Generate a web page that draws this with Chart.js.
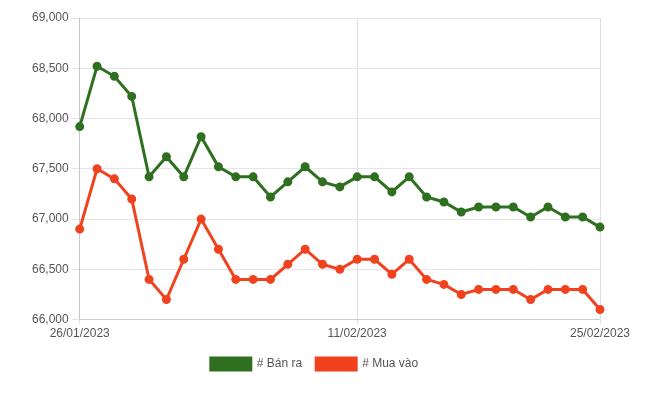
<!DOCTYPE html>
<html><head><meta charset="utf-8">
<script src="https://cdn.jsdelivr.net/npm/chart.js@4"></script>
<style>body{margin:0;background:#fff}#wrap{width:650px;height:400px}</style>
</head><body><div id="wrap"><canvas id="c"></canvas></div>
<script>
const dates=[];
for(let i=0;i<31;i++){const d=new Date(2023,0,26+i);dates.push(String(d.getDate()).padStart(2,'0')+'/'+String(d.getMonth()+1).padStart(2,'0')+'/2023');}
const banRa=[67920,68520,68420,68220,67420,67620,67420,67820,67520,67420,67420,67220,67370,67520,67370,67320,67420,67420,67270,67420,67220,67170,67070,67120,67120,67120,67020,67120,67020,67020,66920];
const muaVao=[66900,67500,67400,67200,66400,66200,66600,67000,66700,66400,66400,66400,66550,66700,66550,66500,66600,66600,66450,66600,66400,66350,66250,66300,66300,66300,66200,66300,66300,66300,66100];
const shownTicks=[0,16,30];
new Chart(document.getElementById('c'),{
  type:'line',
  data:{labels:dates,datasets:[
    {label:'# Bán ra',data:banRa,borderColor:'#2e7020',backgroundColor:'#2e7020',borderWidth:3,pointRadius:3,tension:0},
    {label:'# Mua vào',data:muaVao,borderColor:'#f0421e',backgroundColor:'#f0421e',borderWidth:3,pointRadius:3,tension:0}
  ]},
  options:{
    responsive:true,maintainAspectRatio:false,animation:false,
    layout:{padding:{left:29,right:50,top:18,bottom:20}},
    plugins:{legend:{position:'bottom',labels:{boxWidth:40,boxHeight:12,padding:14,color:'#555',font:{family:'Liberation Sans',size:12}}}},
    scales:{
      x:{ticks:{autoSkip:false,maxRotation:0,color:'#555',font:{family:'Liberation Sans',size:12},
          callback:(v,i)=>shownTicks.includes(i)?dates[i]:''},
         grid:{color:ctx=>shownTicks.includes(ctx.index)?'#e0dce8':'rgba(0,0,0,0)',tickLength:4}},
      y:{min:66000,max:69000,ticks:{stepSize:500,color:'#555',font:{family:'Liberation Sans',size:12},
          callback:v=>v.toLocaleString('en-US')},grid:{color:'#e6e3ec'}}
    }
  }
});
</script></body></html>
